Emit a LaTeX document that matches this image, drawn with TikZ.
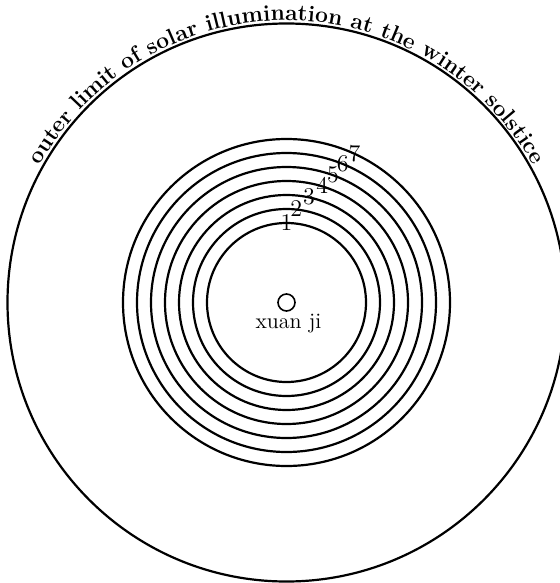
\documentclass[tikz,border=0pt]{standalone}
\usepackage{tikz}
\usetikzlibrary{decorations.text}

\begin{document}
\begin{tikzpicture}[x=0.5pt,y=-0.5pt,
    ring/.style={line width=1.1pt},
    num/.style={inner sep=0pt,font=\fontsize{12}{14}\selectfont}]
  \clip (0,0) rectangle (560,583);
  \coordinate (O) at (286.5,302.5);
  % outer limit
  \draw[ring] (O) circle (279);
  \path[decorate,decoration={text along path,text align=center,
      text={|\fontsize{11.4}{14}\selectfont\bfseries|outer limit of solar illumination at the winter solstice}}]
    ([shift={(-165:282)}]O) arc[start angle=-165,end angle=-15,radius=282];
  % seven rings
  \foreach \i/\a in {1/90,2/84,3/78,4/73,5/70,6/68,7/65.5}{
    \draw[ring] (O) circle ({79.5+14*(\i-1)});
    \node[num] (n\i) at ([shift={(-\a:{80+14*(\i-1)})}]O) {\i};
  }
  % xuan ji
  \node[draw,circle,line width=0.8pt,inner sep=0pt,minimum size=8.5pt] (hub) at (O) {};
  \node[inner sep=1pt,font=\fontsize{11}{13}\selectfont] (xuanji) at ([shift={(2,21)}]O) {xuan ji};
\end{tikzpicture}
\end{document}
